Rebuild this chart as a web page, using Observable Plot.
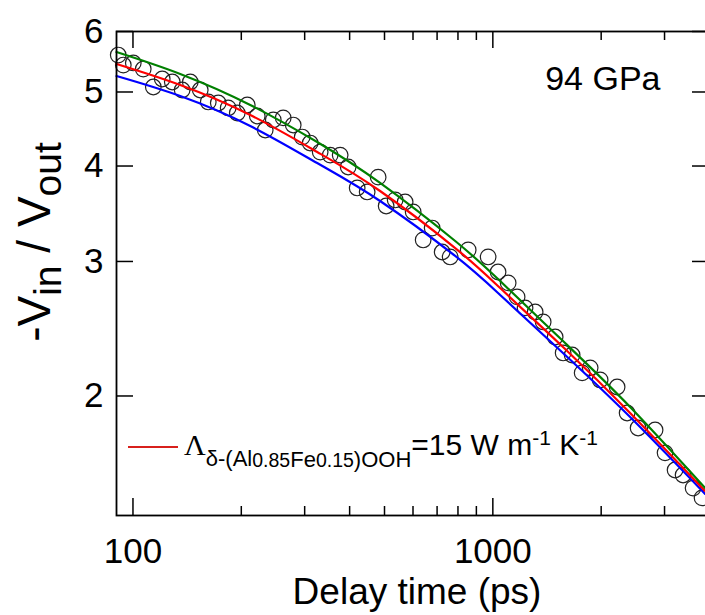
<!DOCTYPE html>
<html><head><meta charset="utf-8">
<script src="https://cdn.jsdelivr.net/npm/d3@7"></script>
<script src="https://cdn.jsdelivr.net/npm/@observablehq/plot@0.6"></script>
<style>html,body{margin:0;padding:0;overflow:hidden;background:#fff}</style>
</head><body><div id="chart"></div>
<script>
// Measured data (delay time in ps, -Vin/Vout)
const delayPs = [91.0,94.0,100.2,106.8,113.9,120.6,128.6,137.0,144.3,153.8,161.9,172.6,183.9,194.9,207.8,221.5,233.1,245.4,261.5,278.8,295.3,310.8,331.3,353.2,376.5,396.3,419.8,447.5,480.1,505.3,535.3,570.6,600.6,640.3,678.2,723.1,761.0,854.1,970.3,1034,1103,1168,1229,1311,1380,1490,1568,1661,1771,1864,1987,2215,2361,2533,2824,3010,3209,3378,3601,3814];
const ratio = [5.589,5.423,5.457,5.358,5.076,5.200,5.153,5.030,5.153,5.030,4.852,4.837,4.765,4.693,4.808,4.651,4.459,4.596,4.624,4.526,4.365,4.287,4.172,4.134,4.134,3.988,3.744,3.699,3.868,3.546,3.611,3.589,3.483,3.201,3.318,3.087,3.041,3.106,3.041,2.906,2.812,2.696,2.608,2.576,2.500,2.389,2.277,2.263,2.144,2.177,2.099,2.055,1.900,1.816,1.805,1.685,1.600,1.576,1.515,1.471];
// Model curves
const fitTime  = [90,135.3,211.8,325,486,786,1048,1588,2407,3889];
const fitGreen = [5.640,5.279,4.808,4.300,3.801,3.191,2.828,2.346,1.935,1.516];
const fitRed   = [5.440,5.106,4.665,4.173,3.710,3.124,2.769,2.304,1.900,1.502];
const fitBlue  = [5.246,4.939,4.513,4.036,3.600,3.050,2.712,2.263,1.877,1.489];
const seriesNames  = ["blue","red","green"];
const seriesColors = ["#1c1ccc","#d8201c","#1a8a1a"];
// Ticks
const xMajorTicks = [100,1000];
const xMinorTicks = [200,300,400,500,600,700,800,900,2000,3000];
const yTicks = [2,3,4,5,6];
const pressureLabel = "94 GPa";

const W=712, H=615, mL=116, mR=3, mT=31, mB=100;
const plotH = H-mT-mB, plotW = W-mL-mR;
const font = "'Liberation Sans', Arial, sans-serif";

const points = delayPs.map((t,i)=>({t, v: ratio[i]}));
const fitSets = {blue: fitBlue, red: fitRed, green: fitGreen};
const fits = seriesNames.flatMap(s => fitTime.map((t,i)=>({s, t, v: fitSets[s][i]})));

const chart = Plot.plot({
  width: W, height: H, marginLeft: mL, marginRight: mR, marginTop: mT, marginBottom: mB,
  x: {type:"log", domain:[90,4000]},
  y: {type:"log", domain:[1.395,6]},
  color: {domain: seriesNames, range: seriesColors},
  style: {fontFamily: font, background:"#fff", color:"#000", maxWidth:"none"},
  marks: [
    Plot.axisX(xMajorTicks, {tickSize:0, tickPadding:23, fontSize:35, tickFormat:d=>String(d), label:null}),
    Plot.axisY(yTicks, {tickSize:0, tickPadding:13, fontSize:35, tickFormat:d=>String(d), label:null}),
    Plot.ruleX(xMajorTicks, {insetTop: plotH-17, strokeWidth:1.5}),
    Plot.ruleX(xMinorTicks, {insetTop: plotH-9, strokeWidth:1.5}),
    Plot.ruleX(xMajorTicks, {insetBottom: plotH-17, strokeWidth:1.5}),
    Plot.ruleX(xMinorTicks, {insetBottom: plotH-9, strokeWidth:1.5}),
    Plot.ruleY(yTicks, {insetRight: plotW-17, strokeWidth:1.5}),
    Plot.ruleY(yTicks, {insetLeft: plotW-17, strokeWidth:1.5}),
    Plot.dot(points, {x:"t", y:"v", r:7.8, stroke:"#222", strokeWidth:1.2, fill:"none"}),
    Plot.line(fits, {x:"t", y:"v", z:"s", stroke:"s", strokeWidth:2.2, curve:"natural"}),
    Plot.frame({strokeWidth:1.8}),
    Plot.text([pressureLabel], {frameAnchor:"top-right", textAnchor:"end", lineAnchor:"top", dx:-49, dy:34, fontSize:34})
  ]
});
chart.style.maxWidth = "none";
document.getElementById("chart").appendChild(chart);

const svg = d3.select(chart);
// Y axis title
const yt = svg.append("text").attr("transform","translate(50,242) rotate(-90)")
  .attr("text-anchor","middle").attr("font-family",font).attr("font-size",46).attr("fill","#000");
yt.append("tspan").text("-V");
yt.append("tspan").attr("dy",11).attr("font-size",39).text("in");
yt.append("tspan").attr("dy",-11).text(" / V");
yt.append("tspan").attr("dy",11).attr("font-size",39).text("out");
// X axis title
svg.append("text").attr("x",417).attr("y",604).attr("text-anchor","middle")
  .attr("font-family",font).attr("font-size",37).attr("fill","#000").text("Delay time (ps)");
// Legend
svg.append("line").attr("x1",128).attr("x2",178).attr("y1",447).attr("y2",447)
  .attr("stroke","#d8201c").attr("stroke-width",2.2);
const lg = svg.append("text").attr("x",184).attr("y",455).attr("text-anchor","start")
  .attr("font-family",font).attr("font-size",30).attr("fill","#000");
lg.append("tspan").attr("font-family","'Liberation Serif', 'Times New Roman', serif").text("Λ");
lg.append("tspan").attr("dy",11).attr("font-size",22).text("δ-(Al");
lg.append("tspan").attr("dy",1).attr("font-size",19.5).text("0.85");
lg.append("tspan").attr("font-size",22).text("Fe");
lg.append("tspan").attr("font-size",19.5).text("0.15");
lg.append("tspan").attr("font-size",22).text(")OOH");
lg.append("tspan").attr("dy",-12).text("=15 W m");
lg.append("tspan").attr("dy",-10).attr("font-size",21).text("-1");
lg.append("tspan").attr("dy",10).text(" K");
lg.append("tspan").attr("dy",-10).attr("font-size",21).text("-1");
</script></body></html>
